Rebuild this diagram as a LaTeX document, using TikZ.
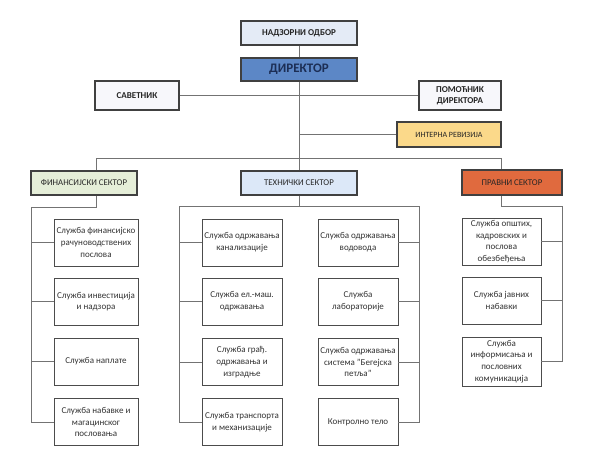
\documentclass[tikz,border=0pt]{standalone}
\usepackage{fontspec}
\setmainfont{Carlito}
\begin{document}
\begin{tikzpicture}[x=1pt,y=-1pt,
  topbox/.style={draw=black!75,line width=1.4pt,align=center,inner sep=1pt,font=\bfseries\fontsize{9}{11}\selectfont,text=black!85},
  secbox/.style={draw=black!75,line width=1.4pt,align=center,inner sep=1pt,font=\fontsize{8.8}{10}\selectfont,text=black!85,minimum height=24pt},
  subbox/.style={draw=black!70,line width=0.9pt,fill=white,align=center,inner sep=1pt,font=\fontsize{9}{11.7}\selectfont,text=black!80,minimum height=47pt},
  conn/.style={draw=black!55,line width=0.9pt}]
\useasboundingbox (0,0) rectangle (599,474);
\fill[white] (0,0) rectangle (599,474);
% top level
\node[topbox,fill={rgb,255:red,228;green,235;blue,246},minimum width=116pt,minimum height=24pt] (nad) at (299,33) {НАДЗОРНИ ОДБОР};
\node[topbox,fill={rgb,255:red,92;green,135;blue,198},minimum width=116pt,minimum height=23pt,font=\bfseries\fontsize{13}{15}\selectfont,text={rgb,255:red,28;green,46;blue,85}] (dir) at (299,69.5) {ДИРЕКТОР};
\node[topbox,fill={rgb,255:red,247;green,247;blue,251},minimum width=84pt,minimum height=29pt] (sav) at (137,95.5) {САВЕТНИК};
\node[topbox,fill={rgb,255:red,247;green,247;blue,251},minimum width=82pt,minimum height=29pt] (pom) at (460,95.5) {ПОМОЋНИК\\ДИРЕКТОРА};
\node[topbox,fill={rgb,255:red,251;green,217;blue,138},minimum width=104pt,minimum height=25pt,font=\fontsize{8}{9}\selectfont] (int) at (449,134.5) {ИНТЕРНА РЕВИЗИЈА};
% sectors
\node[secbox,fill={rgb,255:red,229;green,238;blue,216},minimum width=106pt] (fin) at (84,183) {ФИНАНСИЈСКИ СЕКТОР};
\node[secbox,fill={rgb,255:red,220;green,232;blue,248},minimum width=116pt] (teh) at (299,183) {ТЕХНИЧКИ СЕКТОР};
\node[secbox,fill={rgb,255:red,224;green,106;blue,62},minimum width=100pt,minimum height=25pt] (pra) at (512,182.5) {ПРАВНИ СЕКТОР};
% coordinates
\coordinate (cx) at (299,0);
\coordinate (busL) at (96,158);
\coordinate (busR) at (501,158);
\coordinate (busC) at (299,158);
\coordinate (finD) at (96,207);
\coordinate (finL) at (31,207);
\coordinate (tehD) at (299,206);
\coordinate (tehL) at (179,206);
\coordinate (tehR) at (419,206);
\coordinate (praD) at (501,206);
\coordinate (praR) at (562,206);
% financial services
\node[subbox,minimum width=84pt] (f1) at (96,242.5) {Служба финансијско\\рачуноводствених\\послова};
\node[subbox,minimum width=84pt] (f2) at (96,301.5) {Служба инвестиција\\и надзора};
\node[subbox,minimum width=84pt] (f3) at (96,361.5) {Служба наплате};
\node[subbox,minimum width=84pt] (f4) at (96,422) {Служба набавке и\\магацинског\\пословања};
% technical services
\node[subbox,minimum width=80pt] (t1) at (242,242.5) {Служба одржавања\\канализације};
\node[subbox,minimum width=80pt] (t2) at (242,301.5) {Служба ел.-маш.\\одржавања};
\node[subbox,minimum width=80pt] (t3) at (242,362) {Служба грађ.\\одржавања и\\изградње};
\node[subbox,minimum width=80pt] (t4) at (242,422) {Служба транспорта\\и механизације};
\node[subbox,minimum width=80pt] (r1) at (358,242.5) {Служба одржавања\\водовода};
\node[subbox,minimum width=80pt] (r2) at (358,301.5) {Служба\\лабораторије};
\node[subbox,minimum width=80pt] (r3) at (358,362) {Служба одржавања\\система "Бегејска\\петља"};
\node[subbox,minimum width=80pt] (r4) at (358,422) {Контролно тело};
% legal services
\node[subbox,minimum width=79pt] (p1) at (501.5,241.5) {Служба општих,\\кадровских и\\послова\\обезбеђења};
\node[subbox,minimum width=79pt] (p2) at (501.5,300.5) {Служба јавних\\набавки};
\node[subbox,minimum width=79pt,minimum height=49pt] (p3) at (501.5,361.5) {Служба\\информисања и\\пословних\\комуникација};
% connectors
\path[conn] (nad) -- (dir);
\path[conn] (dir.south) -- (busC);
\path[conn] (sav) -- (sav -| pom.west);
\path[conn] (int.west) -- (int.west -| cx);
\path[conn] (busL |- fin.north) -- (busL) -- (busR) -- (busR |- pra.north);
\path[conn] (busC) -- (teh.north);
\path[conn] (finD |- fin.south) -- (finD) -- (finL) -- (finL |- f4.west) -- (f4.west);
\foreach \n in {f1,f2,f3} \path[conn] (finL |- \n.west) -- (\n.west);
\path[conn] (teh.south) -- (tehD);
\path[conn] (tehL |- t4.west) -- (tehL) -- (tehR) -- (tehR |- r4.east) -- (r4.east);
\path[conn] (tehL |- t4.west) -- (t4.west);
\foreach \n in {t1,t2,t3} \path[conn] (tehL |- \n.west) -- (\n.west);
\foreach \n in {r1,r2,r3} \path[conn] (tehR |- \n.east) -- (\n.east);
\path[conn] (praD |- pra.south) -- (praD) -- (praR) -- (praR |- p3.east) -- (p3.east);
\foreach \n in {p1,p2} \path[conn] (praR |- \n.east) -- (\n.east);
\end{tikzpicture}
\end{document}
